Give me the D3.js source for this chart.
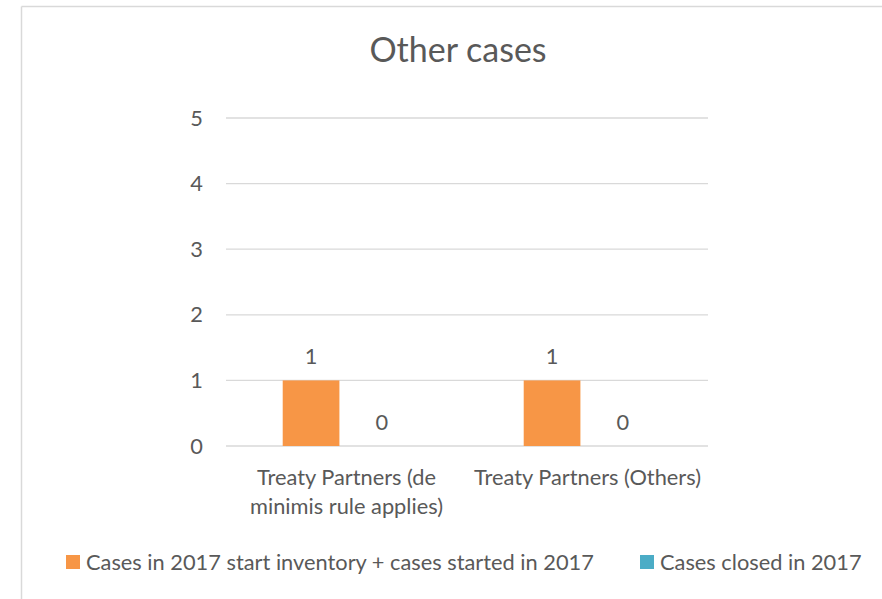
<!DOCTYPE html>
<html>
<head>
<meta charset="utf-8">
<script src="https://cdn.jsdelivr.net/npm/d3@7"></script>
<style>
  body { margin: 0; background: #fff; overflow: hidden; }
  svg { display: block; font-family: Lato, "Open Sans", sans-serif; }
</style>
</head>
<body>
<div id="chart"></div>
<script>
// --------------------------------------
//  Data
// --------------------------------------

const categories = [
  ["Treaty Partners (de", "minimis rule applies)"],
  ["Treaty Partners (Others)"]
];
const series = ["Cases in 2017 start inventory + cases started in 2017", "Cases closed in 2017"];
const startedValues = [1, 1];
const closedValues = [0, 0];
const yTicks = [0, 1, 2, 3, 4, 5];
const title = "Other cases";

const colors = ["#F79646", "#4BACC6"];
const textColor = "#595959";

// --------------------------------------
//  Canvas
// --------------------------------------

const width = 882;
const height = 599;
const margin = {top: 118, right: 174, bottom: 153, left: 226};
const innerWidth = width - margin.left - margin.right;
const innerHeight = height - margin.top - margin.bottom;
const fontSize = 21.8;

const svg = d3.select("#chart")
  .append("svg")
    .attr("width", width)
    .attr("height", height);

// chart frame: only top and left edges are visible in the reference
svg.append("line")
  .attr("x1", 21.5).attr("y1", 6.5)
  .attr("x2", width).attr("y2", 6.5)
  .attr("stroke", "#d9d9d9")
  .attr("stroke-width", 1.5);

svg.append("line")
  .attr("x1", 21.5).attr("y1", 6.5)
  .attr("x2", 21.5).attr("y2", height)
  .attr("stroke", "#d9d9d9")
  .attr("stroke-width", 1.5);

svg.append("text")
  .attr("x", 458)
  .attr("y", 62)
  .attr("text-anchor", "middle")
  .attr("fill", textColor)
  .attr("font-size", 34)
  .text(title);

const inner = svg.append("g")
  .attr("transform", `translate(${margin.left}, ${margin.top})`);

// --------------------------------------
//  Scales
// --------------------------------------

const x0 = d3.scaleBand()
  .domain(d3.range(categories.length))
  .range([0, innerWidth])
  .padding(0);

const x1 = d3.scaleBand()
  .domain(series)
  .range([0, x0.bandwidth()])
  .paddingInner(0.2)
  .paddingOuter(0.8);

const y = d3.scaleLinear()
  .domain([0, 5])
  .range([innerHeight, 0]);

// --------------------------------------
//  Gridlines & axis
// --------------------------------------

inner.append("g")
  .selectAll("line")
  .data(yTicks)
  .join("line")
    .attr("x1", 0)
    .attr("x2", innerWidth)
    .attr("y1", d => y(d))
    .attr("y2", d => y(d))
    .attr("stroke", "#d9d9d9")
    .attr("stroke-width", 1.3);

inner.append("g")
  .selectAll("text")
  .data(yTicks)
  .join("text")
    .attr("x", -23)
    .attr("y", d => y(d))
    .attr("dy", "0.35em")
    .attr("text-anchor", "end")
    .attr("fill", textColor)
    .attr("font-size", fontSize)
    .text(d => d);

// --------------------------------------
//  Bars
// --------------------------------------

const rows = categories.map((c, i) => ({
  idx: i,
  values: [startedValues[i], closedValues[i]]
}));

const groups = inner.selectAll(".cat")
  .data(rows)
  .join("g")
    .attr("class", "cat")
    .attr("transform", d => `translate(${x0(d.idx)}, 0)`);

groups.selectAll("rect")
  .data(d => d.values.map((v, j) => ({key: series[j], value: v, j})))
  .join("rect")
    .attr("x", d => x1(d.key))
    .attr("y", d => y(d.value))
    .attr("width", x1.bandwidth())
    .attr("height", d => innerHeight - y(d.value))
    .attr("fill", d => colors[d.j]);

groups.selectAll(".lbl")
  .data(d => d.values.map((v, j) => ({key: series[j], value: v, j})))
  .join("text")
    .attr("class", "lbl")
    .attr("x", d => x1(d.key) + x1.bandwidth() / 2)
    .attr("y", d => y(d.value) - 24)
    .attr("dy", "0.35em")
    .attr("text-anchor", "middle")
    .attr("fill", textColor)
    .attr("font-size", fontSize)
    .text(d => d.value);

// category labels
groups.append("text")
  .attr("x", x0.bandwidth() / 2)
  .attr("y", innerHeight + 39)
  .attr("text-anchor", "middle")
  .attr("fill", textColor)
  .attr("font-size", fontSize)
  .selectAll("tspan")
  .data(d => categories[d.idx])
  .join("tspan")
    .attr("x", x0.bandwidth() / 2)
    .attr("dy", (d, i) => i === 0 ? 0 : 29)
    .text(d => d);

// --------------------------------------
//  Legend
// --------------------------------------

const legendX = [66, 640];
const legend = svg.append("g")
  .selectAll("g")
  .data(series)
  .join("g")
    .attr("transform", (d, i) => `translate(${legendX[i]}, 555)`);

legend.append("rect")
  .attr("width", 14)
  .attr("height", 14)
  .attr("fill", (d, i) => colors[i]);

legend.append("text")
  .attr("x", 20)
  .attr("y", 7)
  .attr("dy", "0.35em")
  .attr("fill", textColor)
  .attr("font-size", fontSize)
  .text(d => d);
</script>
</body>
</html>
